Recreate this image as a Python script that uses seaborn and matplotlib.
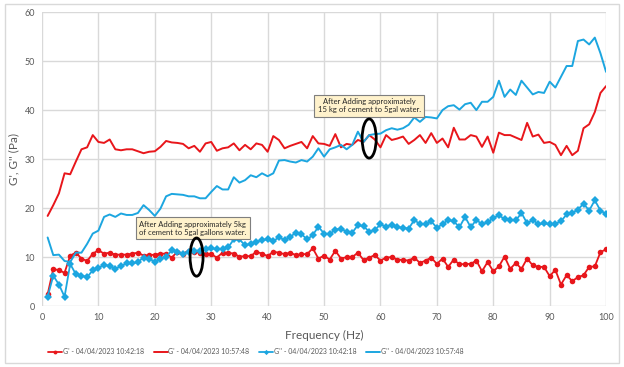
import numpy as np
import pandas as pd
import seaborn as sns
import matplotlib
matplotlib.use("Agg")
import matplotlib.pyplot as plt
from matplotlib.patches import Ellipse, Rectangle

# Frequency sweep 1..100 Hz
freq = list(range(1, 101))

# G' - 04/04/2023 10:42:18 (red, markers)
g1_early = [2.4, 7.6, 7.3, 6.8, 10.3, 10.9, 9.7, 9.2, 10.7, 11.4,
            10.7, 10.9, 10.5, 10.5, 10.5, 10.7, 10.9, 10.3, 10.4, 10.5,
            10.7, 10.7, 9.9, 11.1, 10.7, 11.3, 11.0, 10.9, 10.7, 10.6,
            9.9, 10.9, 10.9, 10.7, 10.1, 10.2, 10.2, 11.1, 10.7, 10.2,
            11.1, 10.9, 10.6, 10.9, 10.4, 10.6, 10.6, 11.8, 9.7, 10.3,
            9.5, 11.3, 9.7, 10.0, 10.0, 10.9, 9.4, 9.9, 10.4, 9.3,
            9.9, 10.0, 9.5, 9.4, 9.3, 9.9, 8.8, 9.3, 9.9, 8.6,
            9.7, 8.0, 9.5, 8.5, 8.6, 8.6, 9.3, 7.1, 9.0, 7.1,
            8.1, 10.1, 7.6, 8.8, 7.6, 9.7, 8.3, 8.0, 8.0, 6.1,
            7.4, 4.4, 6.3, 5.1, 5.9, 6.3, 8.0, 8.1, 11.0, 11.6]

# G' - 04/04/2023 10:57:48 (red, line)
g1_late = [18.4, 20.6, 23.0, 27.1, 26.9, 29.5, 32.0, 32.4, 34.9, 33.5,
           33.3, 34.0, 32.0, 31.8, 32.0, 32.0, 31.6, 31.2, 31.5, 31.6,
           32.5, 33.7, 33.4, 33.3, 33.1, 32.2, 32.7, 31.5, 33.2, 33.5,
           31.7, 32.2, 32.4, 33.2, 31.8, 32.9, 32.0, 33.2, 32.9, 31.5,
           34.7, 33.9, 32.2, 32.7, 33.1, 33.5, 32.2, 34.7, 33.2, 33.1,
           32.7, 35.1, 32.4, 33.1, 32.9, 33.9, 33.5, 34.9, 34.0, 32.4,
           34.9, 33.9, 34.2, 34.6, 33.1, 33.9, 34.9, 33.3, 35.3, 33.3,
           34.2, 32.4, 36.4, 34.0, 34.0, 34.9, 34.6, 32.5, 34.6, 31.3,
           35.4, 34.9, 34.9, 34.4, 33.9, 37.4, 34.6, 35.0, 33.3, 33.5,
           32.9, 30.8, 32.7, 30.8, 31.7, 36.3, 37.1, 39.6, 43.5, 44.9]

# G'' - 04/04/2023 10:42:18 (blue, markers)
g2_early = [1.9, 6.2, 4.4, 1.9, 8.6, 6.5, 6.2, 5.9, 7.3, 7.8,
            8.4, 8.2, 7.6, 8.2, 8.7, 8.7, 9.0, 9.9, 9.7, 9.0,
            9.7, 10.0, 11.4, 11.1, 10.6, 11.1, 11.3, 11.3, 11.6, 11.8,
            11.6, 11.6, 12.0, 13.6, 13.6, 12.4, 12.7, 13.1, 13.5, 13.6,
            13.3, 14.0, 13.5, 14.1, 15.0, 14.7, 13.6, 14.5, 16.2, 14.8,
            14.7, 15.6, 15.8, 15.2, 15.0, 16.5, 16.3, 15.2, 15.5, 16.7,
            16.2, 16.6, 16.1, 16.0, 15.8, 17.6, 16.7, 16.7, 17.3, 16.0,
            16.7, 17.6, 17.3, 16.1, 18.2, 16.1, 17.6, 16.7, 17.1, 18.0,
            18.5, 17.8, 17.5, 17.5, 19.0, 16.9, 17.6, 16.7, 16.9, 16.7,
            16.8, 17.3, 18.7, 19.0, 19.7, 20.9, 19.5, 21.6, 19.5, 18.8]

# G'' - 04/04/2023 10:57:48 (blue, line)
g2_late = [14.0, 10.4, 10.5, 9.2, 9.0, 10.9, 10.9, 12.7, 14.8, 15.4,
           18.2, 18.7, 18.2, 18.9, 18.6, 18.6, 19.0, 20.6, 19.6, 18.4,
           19.9, 22.4, 22.9, 22.8, 22.7, 22.4, 22.4, 22.0, 22.0, 23.3,
           24.5, 23.8, 23.8, 26.3, 25.2, 25.7, 26.7, 26.3, 27.1, 26.5,
           27.1, 29.7, 29.8, 29.5, 29.3, 29.8, 29.5, 30.5, 32.2, 30.5,
           32.0, 32.4, 32.9, 32.0, 32.9, 35.6, 33.5, 34.9, 35.1, 35.2,
           35.9, 36.3, 36.0, 36.3, 37.0, 38.5, 37.6, 38.6, 38.5, 38.3,
           40.0, 40.8, 41.0, 40.1, 41.2, 41.5, 40.0, 41.7, 41.7, 42.7,
           46.0, 42.7, 44.2, 43.1, 46.0, 44.6, 43.2, 43.7, 43.5, 45.8,
           44.6, 46.8, 49.0, 49.0, 54.1, 54.4, 53.4, 54.8, 51.6, 47.8]

labels = ["G' - 04/04/2023 10:42:18", "G' - 04/04/2023 10:57:48",
          "G'' - 04/04/2023 10:42:18", "G'' - 04/04/2023 10:57:48"]

notes = ["After Adding approximately 5kg\nof cement to 5gal gallons water.",
         "After Adding approximately\n15 kg of cement to 5gal water."]

RED = "#E8161B"
BLUE = "#1CA6E0"
GREY = "#595959"

sns.set_style("white")
plt.rcParams["font.family"] = ["Lato", "DejaVu Sans"]

fig = plt.figure(figsize=(6.24, 3.67), dpi=100)
ax = fig.add_axes([0.0673, 0.166, 0.904, 0.801])

# chart area frame
fig.patches.append(Rectangle((0.008, 0.012), 0.984, 0.976, transform=fig.transFigure,
                             fill=False, edgecolor="#D9D9D9", lw=1.0))

sns.lineplot(x=freq, y=g1_early, ax=ax, color=RED, lw=1.3, marker="o",
             markersize=4, markeredgewidth=0, label=labels[0])
sns.lineplot(x=freq, y=g1_late, ax=ax, color=RED, lw=1.4, label=labels[1])
sns.lineplot(x=freq, y=g2_early, ax=ax, color=BLUE, lw=1.3, marker="D",
             markersize=3.8, markeredgewidth=0, label=labels[2])
sns.lineplot(x=freq, y=g2_late, ax=ax, color=BLUE, lw=1.4, label=labels[3])

ax.set_xlim(0, 100)
ax.set_ylim(0, 60)
ax.set_xticks(range(0, 101, 10))
ax.set_yticks(range(0, 61, 10))
ax.grid(True, color="#D9D9D9", lw=1.0)
ax.set_axisbelow(True)
for s in ax.spines.values():
    s.set_visible(False)
ax.tick_params(axis="both", length=0, labelsize=6.5, labelcolor=GREY, pad=5)
ax.set_xlabel("Frequency (Hz)", fontsize=8.5, color=GREY, labelpad=6)
ax.set_ylabel("G', G'' (Pa)", fontsize=8.5, color=GREY, labelpad=4)

# callouts
box = dict(boxstyle="square,pad=0.45", facecolor="#FFF2CC", edgecolor="#7F7F7F", lw=0.8)
ax.text(26.7, 15.9, notes[0], ha="center", va="center", fontsize=5.5, bbox=box, zorder=5)
ax.text(58.0, 40.9, notes[1], ha="center", va="center", fontsize=5.5, bbox=box, zorder=5)
ax.add_patch(Ellipse((27.4, 10.0), 2.3, 7.8, fill=False, edgecolor="black", lw=2, zorder=6))
ax.add_patch(Ellipse((58.0, 34.2), 2.5, 8.0, fill=False, edgecolor="black", lw=2, zorder=6))

ax.get_legend().remove()
handles, labs = ax.get_legend_handles_labels()
fig.legend(handles, labs, loc="center", bbox_to_anchor=(0.41, 0.041), ncol=4,
           frameon=False, fontsize=5, handlelength=2.0, columnspacing=1.4,
           handletextpad=0.1, markerscale=0.7, labelcolor=GREY)

fig.savefig("out.png", dpi=100)
